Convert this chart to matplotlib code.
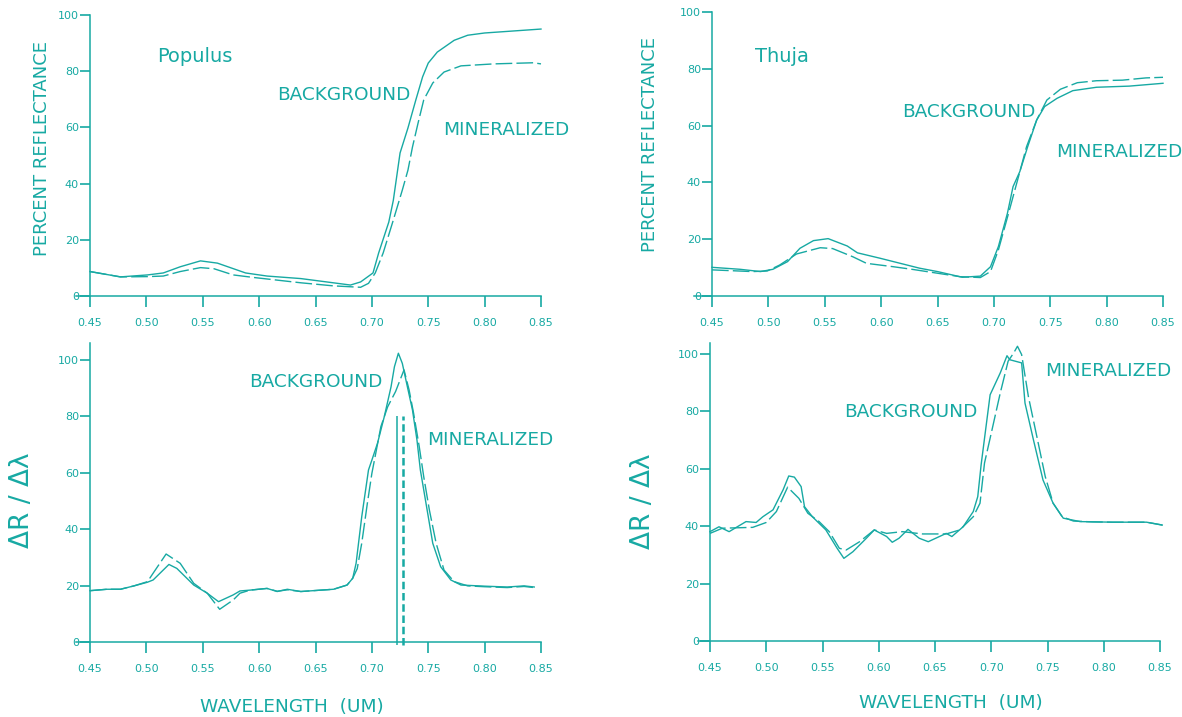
import matplotlib
matplotlib.use("Agg")
import matplotlib.pyplot as plt

TEAL = "#17a9a3"
plt.rcParams["font.family"] = ["DejaVu Sans"]

# wavelength ticks (um) and y ticks
x_ticks = [0.45, 0.50, 0.55, 0.60, 0.65, 0.70, 0.75, 0.80, 0.85]
y_ticks = [0, 20, 40, 60, 80, 100]

# Populus reflectance (percent)
pop_bg_x = [0.45, 0.477, 0.501, 0.515, 0.53, 0.548, 0.563, 0.588, 0.607, 0.637, 0.66, 0.681, 0.690,
            0.701, 0.706, 0.715, 0.719, 0.725, 0.732, 0.739, 0.745, 0.750, 0.758, 0.773, 0.785, 0.80, 0.85]
pop_bg_y = [8.7, 6.8, 7.5, 8.2, 10.4, 12.5, 11.7, 8.2, 7.1, 6.2, 5.0, 3.9, 5.0,
            8.2, 15.3, 26.3, 34, 50.9, 59.8, 69.8, 78, 82.9, 86.8, 91, 92.8, 93.6, 95]
pop_min_x = [0.45, 0.477, 0.501, 0.515, 0.53, 0.548, 0.56, 0.577, 0.595, 0.637, 0.666, 0.690, 0.697,
             0.703, 0.710, 0.719, 0.727, 0.732, 0.736, 0.741, 0.746, 0.754, 0.764, 0.779, 0.808, 0.843, 0.85]
pop_min_y = [8.7, 6.8, 6.9, 7.1, 8.7, 10.1, 9.7, 7.5, 6.6, 4.7, 3.6, 3.1, 4.5,
             8.2, 15.3, 27, 37.7, 44.8, 53, 61.6, 69.8, 75.8, 79.7, 81.9, 82.6, 83.0, 82.6]

# Thuja reflectance (percent)
thu_bg_x = [0.45, 0.475, 0.493, 0.504, 0.517, 0.528, 0.54, 0.553, 0.57, 0.579, 0.599, 0.617, 0.634, 0.65,
            0.672, 0.688, 0.697, 0.704, 0.712, 0.717, 0.723, 0.73, 0.738, 0.745, 0.756, 0.77, 0.791, 0.82, 0.85]
thu_bg_y = [10.1, 9.4, 8.6, 9.4, 12.1, 16.8, 19.5, 20.2, 17.6, 15.2, 13.3, 11.5, 9.8, 8.6,
            6.6, 7.0, 10.3, 17.4, 29.1, 38.5, 43.8, 52.6, 62, 66.7, 69.6, 72.3, 73.5, 73.9, 74.9]
thu_min_x = [0.45, 0.486, 0.499, 0.51, 0.525, 0.546, 0.557, 0.575, 0.587, 0.611, 0.629, 0.67, 0.688,
             0.697, 0.704, 0.713, 0.721, 0.729, 0.738, 0.747, 0.759, 0.774, 0.791, 0.814, 0.835, 0.85]
thu_min_y = [9.2, 8.6, 8.8, 10.9, 14.8, 17.0, 16.7, 13.8, 11.5, 10.3, 9.3, 6.8, 6.5,
             8.6, 16.2, 29.1, 40.8, 52.6, 62, 69, 72.8, 75.1, 75.8, 76, 76.8, 77]

# Populus first derivative
pop_d_bg_x = [0.45, 0.465, 0.477, 0.489, 0.501, 0.506, 0.52, 0.527, 0.542, 0.554, 0.564, 0.577, 0.583,
              0.592, 0.607, 0.616, 0.625, 0.637, 0.666, 0.678, 0.683, 0.686, 0.691, 0.697, 0.70, 0.705,
              0.711, 0.717, 0.72, 0.7235, 0.727, 0.7315, 0.736, 0.74, 0.743, 0.748, 0.754, 0.761, 0.77,
              0.779, 0.80, 0.82, 0.835, 0.844]
pop_d_bg_y = [18.2, 18.7, 18.7, 19.9, 21.2, 22, 27.5, 26.1, 20.2, 17.3, 14.3, 16.7, 18.1,
              18.4, 19, 17.9, 18.7, 17.9, 18.7, 20.2, 22.6, 27.9, 44.4, 61, 64.5, 70.5,
              79.9, 90.5, 97.6, 102.4, 98.8, 90.5, 82.3, 71.6, 61, 49.2, 35, 26.7, 22,
              20.2, 19.8, 19.5, 19.9, 19.5]
pop_d_min_x = [0.45, 0.465, 0.477, 0.489, 0.501, 0.506, 0.5175, 0.53, 0.542, 0.554, 0.565, 0.577, 0.583,
               0.592, 0.607, 0.616, 0.625, 0.637, 0.666, 0.678, 0.683, 0.687, 0.691, 0.696, 0.70, 0.708,
               0.714, 0.721, 0.725, 0.7285, 0.733, 0.737, 0.742, 0.746, 0.751, 0.757, 0.764, 0.773,
               0.785, 0.80, 0.82, 0.835, 0.844]
pop_d_min_y = [18.2, 18.7, 18.7, 19.9, 21.4, 24.4, 31.2, 27.9, 20.8, 17.3, 11.6, 14.9, 17.3,
               18.4, 19, 18.0, 18.5, 17.9, 18.7, 20.2, 22.6, 26, 35, 49.2, 59.8, 76.4,
               83.4, 88.8, 92.9, 96.5, 89.4, 81.1, 69.3, 58.6, 46.8, 35, 25.5, 21.4,
               19.9, 19.6, 19.3, 19.7, 19.3]
pop_edge_bg = 0.7226
pop_edge_min = 0.728
edge_top = 80

# Thuja first derivative
thu_d_bg_x = [0.45, 0.458, 0.467, 0.482, 0.491, 0.497, 0.506, 0.515, 0.52, 0.525, 0.531, 0.534, 0.541,
              0.553, 0.563, 0.569, 0.577, 0.589, 0.596, 0.607, 0.612, 0.618, 0.626, 0.636, 0.644, 0.66,
              0.665, 0.675, 0.684, 0.688, 0.691, 0.699, 0.708, 0.714, 0.7165, 0.727, 0.73, 0.7375,
              0.746, 0.755, 0.764, 0.779, 0.808, 0.838, 0.852]
thu_d_bg_y = [38.1, 39.8, 38.1, 41.6, 41.3, 43.3, 45.7, 52.7, 57.5, 57.1, 53.8, 46.8, 43.3,
              38.7, 32.3, 28.8, 31.1, 35.8, 38.7, 36.4, 34.4, 35.8, 38.9, 35.8, 34.6, 37.5,
              36.4, 39.8, 45.1, 50.3, 61.4, 85.8, 93.4, 99.4, 98, 96.9, 82.9, 70.1,
              56.1, 48, 42.8, 41.6, 41.4, 41.4, 40.4]
thu_d_min_x = [0.45, 0.461, 0.488, 0.5, 0.509, 0.519, 0.529, 0.537, 0.547, 0.556, 0.565, 0.571, 0.583,
               0.596, 0.607, 0.621, 0.639, 0.66, 0.672, 0.684, 0.69, 0.694, 0.70, 0.708, 0.715, 0.72,
               0.7233, 0.727, 0.733, 0.7405, 0.748, 0.755, 0.763, 0.773, 0.79, 0.808, 0.838, 0.852]
thu_d_min_y = [37.5, 39.3, 39.6, 41.3, 45.1, 53.6, 49.7, 44.5, 41.6, 38.1, 32.3, 31.7, 34.6,
               38.7, 37.5, 38.1, 37.3, 37.3, 38.7, 43.3, 48, 62, 72.4, 86.4, 97.5, 100.4,
               102.7, 99.8, 85.2, 71.3, 57.3, 48, 43.3, 41.8, 41.5, 41.4, 41.4, 40.4]

W, H = 1182, 717
fig = plt.figure(figsize=(W / 100, H / 100), dpi=100)

XMIN, XMAX, YMIN, YMAX = 0.43, 0.86, -6, 108


def make_ax(x0, x1, y0, y1, spine_top, xstart):
    # x0/x1: pixel of 0.45/0.85, y0/y1: pixel of 0/100
    ppx = (x1 - x0) / 0.4
    ppy = (y0 - y1) / 100
    left = x0 - (0.45 - XMIN) * ppx
    right = x1 + (XMAX - 0.85) * ppx
    bottom = y0 + (0 - YMIN) * ppy
    top = y1 - (YMAX - 100) * ppy
    ax = fig.add_axes([left / W, 1 - bottom / H, (right - left) / W, (bottom - top) / H])
    ax.set_xlim(XMIN, XMAX)
    ax.set_ylim(YMIN, YMAX)
    for s in ["top", "right"]:
        ax.spines[s].set_visible(False)
    ax.spines["left"].set_position(("data", 0.45))
    ax.spines["bottom"].set_position(("data", 0))
    ax.spines["left"].set_bounds(0, spine_top)
    ax.spines["bottom"].set_bounds(xstart, 0.85)
    for s in ["left", "bottom"]:
        ax.spines[s].set_color(TEAL)
        ax.spines[s].set_linewidth(1.1)
    ax.set_xticks(x_ticks)
    ax.set_xticklabels([f"{v:.2f}" for v in x_ticks])
    ax.set_yticks(y_ticks)
    ax.tick_params(colors=TEAL, labelcolor=TEAL, labelsize=8, width=1.2, direction="out")
    ax.tick_params(axis="x", length=8, pad=8)
    ax.tick_params(axis="y", length=7, pad=1)
    ax.patch.set_visible(False)
    return ax


def ftext(x, y, s, size=13.3, ha="center", va="baseline", rot=0):
    fig.text(x / W, 1 - y / H, s, fontsize=size, color=TEAL, ha=ha, va=va, rotation=rot)


lw = 1.0
dash = (12, 3)

# top left: Populus reflectance
ax = make_ax(90, 541, 296, 15, 100, 0.4376)
ax.plot(pop_bg_x, pop_bg_y, color=TEAL, lw=lw)
ax.plot(pop_min_x, pop_min_y, color=TEAL, lw=lw, dashes=dash)

# top right: Thuja reflectance
ax = make_ax(712, 1163, 296, 12, 100, 0.434)
ax.plot(thu_bg_x, thu_bg_y, color=TEAL, lw=lw)
ax.plot(thu_min_x, thu_min_y, color=TEAL, lw=lw, dashes=dash)

# bottom left: Populus derivative
ax = make_ax(90, 541, 642, 360, 106, 0.4376)
ax.plot(pop_d_bg_x, pop_d_bg_y, color=TEAL, lw=lw)
ax.plot(pop_d_min_x, pop_d_min_y, color=TEAL, lw=lw, dashes=dash)
ax.vlines(pop_edge_bg, -1, edge_top, color=TEAL, lw=1.1)
ax.vlines(pop_edge_min, -1, edge_top, color=TEAL, lw=1.8, linestyles=(0, (3, 1.5)))

# bottom right: Thuja derivative
ax = make_ax(710, 1160, 641, 354, 104, 0.439)
ax.plot(thu_d_bg_x, thu_d_bg_y, color=TEAL, lw=lw)
ax.plot(thu_d_min_x, thu_d_min_y, color=TEAL, lw=lw, dashes=dash)

# annotations
ftext(195, 62, "Populus", size=14)
ftext(343.5, 100, "BACKGROUND")
ftext(506.5, 135, "MINERALIZED")
ftext(781.5, 62, "Thuja", size=14)
ftext(969, 117, "BACKGROUND")
ftext(1119, 157, "MINERALIZED")
ftext(316, 387, "BACKGROUND")
ftext(490.5, 445, "MINERALIZED")
ftext(911, 417, "BACKGROUND")
ftext(1108.5, 376, "MINERALIZED")

# axis titles
ftext(42, 148, "PERCENT REFLECTANCE", size=13, va="center", rot=90)
ftext(650, 144, "PERCENT REFLECTANCE", size=13, va="center", rot=90)
ftext(22, 500, "ΔR / Δλ", size=19, va="center", rot=90)
ftext(643, 501, "ΔR / Δλ", size=19, va="center", rot=90)
ftext(291.5, 712, "WAVELENGTH  (UM)")
ftext(951, 708, "WAVELENGTH  (UM)")

fig.savefig("out.png", dpi=100)
